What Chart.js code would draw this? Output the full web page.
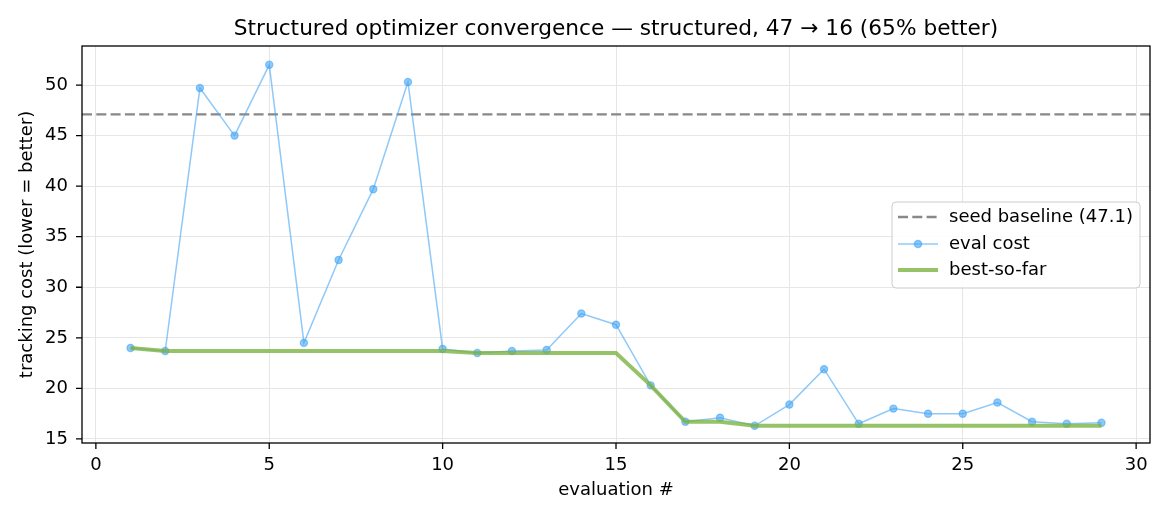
<!DOCTYPE html>
<html>
<head>
<meta charset="utf-8">
<script src="https://cdn.jsdelivr.net/npm/chart.js@4.4.1/dist/chart.umd.min.js"></script>
<style>
  html, body { margin: 0; padding: 0; background: #fff; }
  #wrap { width: 1170px; height: 520px; }
</style>
</head>
<body>
<div id="wrap"><canvas id="convergenceChart" width="1170" height="520"></canvas></div>
<script>
// ===== Data =====
const evaluations = [1, 2, 3, 4, 5, 6, 7, 8, 9, 10, 11, 12, 13, 14, 15,
                     16, 17, 18, 19, 20, 21, 22, 23, 24, 25, 26, 27, 28, 29];
const evalCost = [24.0, 23.7, 49.7, 45.0, 52.0, 24.5, 32.7, 39.7, 50.3, 23.9,
                  23.5, 23.7, 23.8, 27.4, 26.3, 20.3, 16.7, 17.1, 16.3, 18.4,
                  21.9, 16.5, 18.0, 17.5, 17.5, 18.6, 16.7, 16.5, 16.6];
const bestSoFar = [24.0, 23.7, 23.7, 23.7, 23.7, 23.7, 23.7, 23.7, 23.7, 23.7,
                   23.5, 23.5, 23.5, 23.5, 23.5, 20.3, 16.7, 16.7, 16.3, 16.3,
                   16.3, 16.3, 16.3, 16.3, 16.3, 16.3, 16.3, 16.3, 16.3];
const seedBaseline = 47.1;
const xTicks = [0, 5, 10, 15, 20, 25, 30];
const yTicks = [15, 20, 25, 30, 35, 40, 45, 50];

const chartTitle = 'Structured optimizer convergence \u2014 structured, 47 \u2192 16 (65% better)';
const FONT = '"DejaVu Sans", sans-serif';

// ===== Colors =====
const BLUE_LINE = 'rgba(66, 165, 245, 0.6)';
const BLUE_DOT = 'rgba(66, 165, 245, 0.6)';
const GREEN = 'rgba(124, 179, 66, 0.8)';
const GRAY = '#888888';

// ===== Extras: baseline, frame, tick marks, title, legend =====
const extrasPlugin = {
    id: 'extras',
    beforeDatasetsDraw(chart) {
        const { ctx, chartArea, scales } = chart;
        const y = scales.y.getPixelForValue(seedBaseline);
        ctx.save();
        ctx.strokeStyle = GRAY;
        ctx.lineWidth = 2.4;
        ctx.setLineDash([10, 4.3]);
        ctx.beginPath();
        ctx.moveTo(chartArea.left, y);
        ctx.lineTo(chartArea.right, y);
        ctx.stroke();
        ctx.restore();
    },
    afterDraw(chart) {
        const { ctx, chartArea, scales } = chart;
        const { left, right, top, bottom } = chartArea;
        ctx.save();

        // frame
        ctx.strokeStyle = '#000';
        ctx.lineWidth = 1.3;
        ctx.strokeRect(left, top, right - left, bottom - top);

        // tick marks
        ctx.beginPath();
        xTicks.forEach(v => {
            const x = scales.x.getPixelForValue(v);
            ctx.moveTo(x, bottom);
            ctx.lineTo(x, bottom + 6);
        });
        yTicks.forEach(v => {
            const y = scales.y.getPixelForValue(v);
            ctx.moveTo(left - 6, y);
            ctx.lineTo(left, y);
        });
        ctx.stroke();

        // title
        ctx.fillStyle = '#000';
        ctx.font = '21.7px ' + FONT;
        ctx.textAlign = 'center';
        ctx.textBaseline = 'alphabetic';
        ctx.fillText(chartTitle, (left + right) / 2, 35);

        // legend
        const bx = 892, by = 202, bw = 248, bh = 86;
        ctx.beginPath();
        ctx.roundRect(bx, by, bw, bh, 4);
        ctx.fillStyle = 'rgba(255,255,255,0.85)';
        ctx.fill();
        ctx.strokeStyle = '#cccccc';
        ctx.lineWidth = 1;
        ctx.stroke();

        const sx0 = 898, sx1 = 938, tx = 949;
        const rows = [217, 244, 270];

        ctx.strokeStyle = GRAY;
        ctx.lineWidth = 2.4;
        ctx.setLineDash([10, 4.3]);
        ctx.beginPath();
        ctx.moveTo(sx0, rows[0]);
        ctx.lineTo(sx1, rows[0]);
        ctx.stroke();
        ctx.setLineDash([]);

        ctx.strokeStyle = BLUE_LINE;
        ctx.lineWidth = 1.5;
        ctx.beginPath();
        ctx.moveTo(sx0, rows[1]);
        ctx.lineTo(sx1, rows[1]);
        ctx.stroke();
        ctx.beginPath();
        ctx.arc((sx0 + sx1) / 2, rows[1], 3.6, 0, Math.PI * 2);
        ctx.fillStyle = BLUE_DOT;
        ctx.fill();
        ctx.stroke();

        ctx.strokeStyle = GREEN;
        ctx.lineWidth = 4;
        ctx.beginPath();
        ctx.moveTo(sx0, rows[2]);
        ctx.lineTo(sx1, rows[2]);
        ctx.stroke();

        ctx.fillStyle = '#000';
        ctx.font = '18px ' + FONT;
        ctx.textAlign = 'left';
        ctx.textBaseline = 'middle';
        ctx.fillText('seed baseline (' + seedBaseline.toFixed(1) + ')', tx, rows[0]);
        ctx.fillText('eval cost', tx, rows[1]);
        ctx.fillText('best-so-far', tx, rows[2]);

        ctx.restore();
    }
};

// ===== Initialize Chart =====
function initChart() {
    const ctx = document.getElementById('convergenceChart');
    if (!ctx) return;

    const data = {
        datasets: [{
            label: 'best-so-far',
            data: evaluations.map((x, i) => ({ x: x, y: bestSoFar[i] })),
            borderColor: GREEN,
            borderWidth: 4,
            pointRadius: 0,
            tension: 0,
            order: 0
        }, {
            label: 'eval cost',
            data: evaluations.map((x, i) => ({ x: x, y: evalCost[i] })),
            borderColor: BLUE_LINE,
            borderWidth: 1.5,
            pointRadius: 3.6,
            pointBackgroundColor: BLUE_DOT,
            pointBorderColor: BLUE_DOT,
            pointBorderWidth: 1.2,
            tension: 0,
            order: 1
        }]
    };

    const tickFont = { family: FONT, size: 18 };

    const config = {
        type: 'line',
        data: data,
        options: {
            responsive: false,
            devicePixelRatio: 1,
            animation: false,
            layout: { padding: { top: 46, right: 20, bottom: 0, left: 0 } },
            plugins: {
                legend: { display: false },
                tooltip: { enabled: false },
                title: { display: false }
            },
            scales: {
                x: {
                    type: 'linear',
                    min: -0.4,
                    max: 30.4,
                    afterBuildTicks: s => { s.ticks = xTicks.map(v => ({ value: v })); },
                    afterFit: s => { s.height = 77; },
                    grid: { color: '#e6e6e6', lineWidth: 1, drawTicks: false },
                    border: { display: false },
                    ticks: { padding: 12, color: '#000', font: tickFont, maxRotation: 0, autoSkip: false },
                    title: {
                        display: true,
                        text: 'evaluation #',
                        color: '#000',
                        font: tickFont,
                        padding: { top: 0, bottom: 19 }
                    }
                },
                y: {
                    type: 'linear',
                    min: 14.6,
                    max: 53.86,
                    afterBuildTicks: s => { s.ticks = yTicks.map(v => ({ value: v })); },
                    afterFit: s => { s.width = 82; },
                    grid: { color: '#e6e6e6', lineWidth: 1, drawTicks: false },
                    border: { display: false },
                    ticks: { padding: 14, color: '#000', font: tickFont, autoSkip: false },
                    title: {
                        display: true,
                        text: 'tracking cost (lower = better)',
                        color: '#000',
                        font: tickFont,
                        padding: { top: 17, bottom: 0 }
                    }
                }
            }
        },
        plugins: [extrasPlugin]
    };

    new Chart(ctx, config);
}

document.addEventListener('DOMContentLoaded', initChart);
</script>
</body>
</html>
